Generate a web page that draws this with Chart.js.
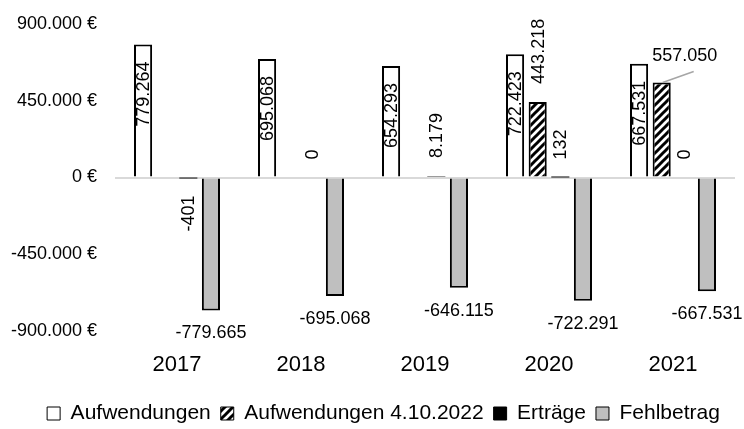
<!DOCTYPE html>
<html>
<head>
<meta charset="utf-8">
<script src="https://cdn.jsdelivr.net/npm/chart.js@4.4.1/dist/chart.umd.min.js"></script>
<style>
  html, body { margin: 0; padding: 0; background: #fff; }
</style>
</head>
<body>
<canvas id="myChart" width="744" height="429"></canvas>
<script>
// values
const years = ["2017", "2018", "2019", "2020", "2021"];
const aufwendungen = [779264, 695068, 654293, 722423, 667531];
const aufwendungenNeu = [null, null, null, 443218, 557050];
const ertraege = [-401, 0, 8179, 132, 0];
const fehlbetrag = [-779665, -695068, -646115, -722291, -667531];
const yTicks = [-900000, -450000, 0, 450000, 900000];

const labelFont = "18px 'Liberation Sans', Arial, sans-serif";

// german number format: 779264 -> 779.264
function fmt(v) {
  const s = Math.abs(v).toString().replace(/\B(?=(\d{3})+(?!\d))/g, ".");
  return (v < 0 ? "-" : "") + s;
}

// diagonal hatch for the second series
function makeHatch() {
  const c = document.createElement("canvas");
  c.width = 8;
  c.height = 8;
  const g = c.getContext("2d");
  g.fillStyle = "#fff";
  g.fillRect(0, 0, 8, 8);
  g.strokeStyle = "#000";
  g.lineWidth = 3;
  g.beginPath();
  g.moveTo(-2, 10); g.lineTo(10, -2);
  g.moveTo(-2, 2); g.lineTo(2, -2);
  g.moveTo(6, 10); g.lineTo(10, 6);
  g.stroke();
  return g.createPattern(c, "repeat");
}

function vertical(ctx, txt, x, y, align) {
  ctx.save();
  ctx.translate(x, y);
  ctx.rotate(-Math.PI / 2);
  ctx.textAlign = align;
  ctx.textBaseline = "middle";
  ctx.fillText(txt, 0, 1);
  ctx.restore();
}

// data labels like the excel chart
const barLabels = {
  id: "barLabels",
  afterLayout(chart) {
    // excel legend sits a bit right of the canvas centre
    chart.legend.left += 12;
    chart.legend.right += 12;
  },
  afterDatasetsDraw(chart) {
    const ctx = chart.ctx;
    ctx.save();
    ctx.fillStyle = "#000";
    ctx.font = labelFont;
    chart.data.datasets.forEach((ds, di) => {
      const meta = chart.getDatasetMeta(di);
      meta.data.forEach((bar, i) => {
        const v = ds.data[i];
        if (v === null || v === undefined) return;
        const txt = fmt(v);
        if (di === 0) {
          vertical(ctx, txt, bar.x, bar.y + 17, "right");
        } else if (di === 1) {
          if (i === ds.data.length - 1) {
            // callout with leader line
            ctx.strokeStyle = "#a6a6a6";
            ctx.lineWidth = 1.5;
            ctx.beginPath();
            ctx.moveTo(bar.x + 1, bar.y);
            ctx.lineTo(bar.x + 32, bar.y - 11);
            ctx.stroke();
            ctx.textAlign = "center";
            ctx.textBaseline = "bottom";
            ctx.fillText(txt, bar.x + 23, bar.y - 17);
          } else {
            vertical(ctx, txt, bar.x, bar.y - 18, "left");
          }
        } else if (di === 2) {
          if (v < 0) vertical(ctx, txt, bar.x, bar.y + 18, "right");
          else vertical(ctx, txt, bar.x, bar.y - 18, "left");
        } else {
          ctx.textAlign = "center";
          ctx.textBaseline = "top";
          ctx.fillText(txt, bar.x, bar.y + 14);
        }
      });
    });
    ctx.restore();
  }
};

const data = {
  labels: years,
  datasets: [
    {
      label: "Aufwendungen",
      data: aufwendungen,
      backgroundColor: "#ffffff",
      borderColor: "#000000",
      borderWidth: 2,
    },
    {
      label: "Aufwendungen 4.10.2022",
      data: aufwendungenNeu,
      backgroundColor: makeHatch(),
      borderColor: "#000000",
      borderWidth: 2,
    },
    {
      label: "Erträge",
      data: ertraege,
      backgroundColor: "#000000",
      borderColor: "#000000",
      borderWidth: 0,
    },
    {
      label: "Fehlbetrag",
      data: fehlbetrag,
      backgroundColor: "#bfbfbf",
      borderColor: "#000000",
      borderWidth: 2,
    },
  ],
};

const config = {
  type: "bar",
  data: data,
  plugins: [barLabels],
  options: {
    responsive: false,
    animation: false,
    categoryPercentage: 0.73,
    barPercentage: 0.8,
    layout: {
      padding: { left: 8, right: 9, top: 24, bottom: -5 },
    },
    plugins: {
      tooltip: { enabled: false },
      legend: {
        position: "bottom",
        labels: {
          color: "#000",
          font: { family: "'Liberation Sans', Arial, sans-serif", size: 21 },
          boxWidth: 13,
          boxHeight: 13,
          padding: 10,
          generateLabels(chart) {
            const items = Chart.defaults.plugins.legend.labels.generateLabels(chart);
            items.forEach((it) => {
              it.lineWidth = 1;
              it.strokeStyle = "#000";
            });
            return items;
          },
        },
      },
    },
    scales: {
      x: {
        grid: { display: false },
        border: { display: false },
        ticks: {
          color: "#000",
          padding: 13,
          font: { family: "'Liberation Sans', Arial, sans-serif", size: 22 },
        },
        afterFit(scale) {
          scale.height = 62;
        },
      },
      y: {
        min: yTicks[0],
        max: yTicks[yTicks.length - 1],
        afterBuildTicks(axis) {
          axis.ticks = yTicks.map((v) => ({ value: v }));
        },
        afterFit(scale) {
          scale.width = 107;
        },
        grid: {
          drawTicks: true,
          tickLength: 18,
          tickColor: "rgba(0,0,0,0)",
          lineWidth: 2,
          color: (c) => (c.tick && c.tick.value === 0 ? "#d9d9d9" : "rgba(0,0,0,0)"),
        },
        border: { display: false },
        ticks: {
          color: "#000",
          padding: 0,
          font: { family: "'Liberation Sans', Arial, sans-serif", size: 18 },
          callback: (v) => fmt(v) + " €",
        },
      },
    },
  },
};

const myChart = new Chart(document.getElementById("myChart"), config);
</script>
</body>
</html>
